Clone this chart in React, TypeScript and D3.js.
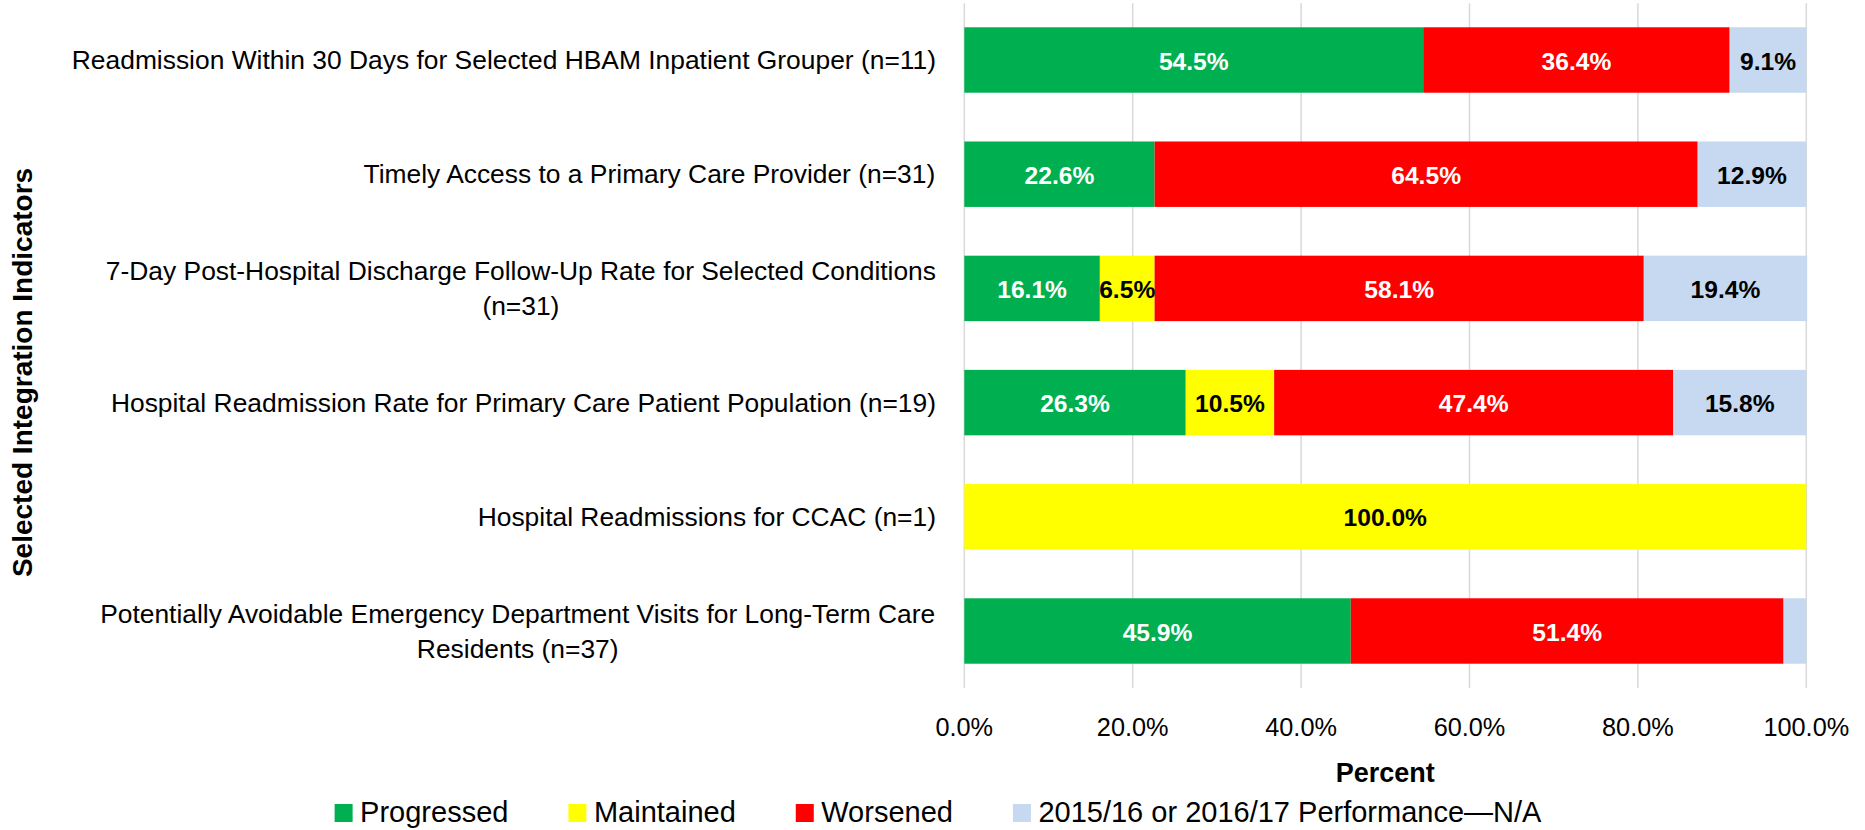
import React from "react";
import * as d3 from "d3";

const categories = [
  "Readmission Within 30 Days for Selected HBAM Inpatient Grouper (n=11)",
  "Timely Access to a Primary Care Provider (n=31)",
  "7-Day Post-Hospital Discharge Follow-Up Rate for Selected Conditions\n(n=31)",
  "Hospital Readmission Rate for Primary Care Patient Population (n=19)",
  "Hospital Readmissions for CCAC (n=1)",
  "Potentially Avoidable Emergency Department Visits for Long-Term Care\nResidents (n=37)",
];
const progressed = [54.5, 22.6, 16.1, 26.3, 0, 45.9];
const maintained = [0, 0, 6.5, 10.5, 100, 0];
const worsened = [36.4, 64.5, 58.1, 47.4, 0, 51.4];
const notAvailable = [9.1, 12.9, 19.4, 15.8, 0, 2.7];
const seriesKeys = ["progressed", "maintained", "worsened", "na"];
const seriesNames = ["Progressed", "Maintained", "Worsened", "2015/16 or 2016/17 Performance\u2014N/A"];
const xTicks = [0, 20, 40, 60, 80, 100];

const colors = ["#00B050", "#FFFF00", "#FF0000", "#C6D9F1"];
const labelColors = ["#FFFFFF", "#000000", "#FFFFFF", "#000000"];

const W = 1865;
const H = 830;
const FONT = "'Liberation Sans', Arial, sans-serif";

const X0 = 964.3;
const X1 = 1806.3;
const Y0 = 2.9;
const Y1 = 688.1;

let ctx: CanvasRenderingContext2D | null = null;
function textWidth(s: string, font: string): number {
  if (!ctx) ctx = document.createElement("canvas").getContext("2d");
  if (!ctx) return s.length * 10;
  ctx.font = font;
  return ctx.measureText(s).width;
}

export default function App() {
  const table = categories.map((c, i) => ({
    category: c,
    progressed: progressed[i],
    maintained: maintained[i],
    worsened: worsened[i],
    na: notAvailable[i],
  }));
  const stack = d3.stack<any>().keys(seriesKeys)(table);

  const x = d3.scaleLinear().domain([0, 100]).range([X0, X1]);
  const y = d3
    .scaleBand<string>()
    .domain(categories)
    .range([Y0, Y1])
    .paddingInner(0.427)
    .paddingOuter(0.2135);

  const catSize = 26.4;
  const catFont = `${catSize}px ${FONT}`;
  const labelRight = 936;
  const lineH = 35;

  const legendSize = 29;
  const legendFont = `${legendSize}px ${FONT}`;
  const sq = 18;
  const sqGap = 7.5;
  const itemGap = 60;
  const itemWidths = seriesNames.map((n) => sq + sqGap + textWidth(n, legendFont));
  const totalLegend = d3.sum(itemWidths) + itemGap * (seriesNames.length - 1);
  let lx = 938 - totalLegend / 2;
  const legendItems = seriesNames.map((n, i) => {
    const item = { name: n, x: lx, color: colors[i] };
    lx += itemWidths[i] + itemGap;
    return item;
  });

  const fmt = d3.format(".1f");

  return (
    <svg
      width={W}
      height={H}
      style={{ position: "absolute", left: 0, top: 0, background: "#fff" }}
      fontFamily={FONT}
    >
      <rect x={0} y={0} width={W} height={H} fill="#fff" />
      {/* gridlines */}
      {xTicks.map((t) => (
        <line
          key={"g" + t}
          x1={x(t)}
          x2={x(t)}
          y1={3.3}
          y2={688}
          stroke="#D9D9D9"
          strokeWidth={1.5}
        />
      ))}
      {/* bars */}
      {stack.map((s, si) => (
        <g key={s.key} fill={colors[si]}>
          {s.map((d, di) => {
            const w = x(d[1]) - x(d[0]);
            if (w <= 0) return null;
            return (
              <rect
                key={di}
                x={x(d[0])}
                y={y(categories[di])!}
                width={w}
                height={y.bandwidth()}
              />
            );
          })}
        </g>
      ))}
      {/* data labels */}
      {stack.map((s, si) => (
        <g key={"l" + s.key} fill={labelColors[si]} fontWeight="bold" fontSize={24.6} textAnchor="middle">
          {s.map((d, di) => {
            const v = d[1] - d[0];
            if (v < 3) return null;
            const cy = y(categories[di])! + y.bandwidth() / 2;
            return (
              <text key={di} x={(x(d[0]) + x(d[1])) / 2} y={cy + 9.5}>
                {fmt(v) + "%"}
              </text>
            );
          })}
        </g>
      ))}
      {/* category labels */}
      {categories.map((c) => {
        const lines = c.split("\n");
        const blockW = d3.max(lines, (l) => textWidth(l, catFont)) || 0;
        const cx = labelRight - blockW / 2;
        const cy = y(c)! + y.bandwidth() / 2;
        return (
          <g key={"c" + c} fontSize={catSize} fill="#000" textAnchor="middle">
            {lines.map((l, li) => (
              <text key={li} x={cx} y={cy + 9 + (li - (lines.length - 1) / 2) * lineH}>
                {l}
              </text>
            ))}
          </g>
        );
      })}
      {/* x tick labels */}
      {xTicks.map((t) => (
        <text key={"t" + t} x={x(t)} y={736} fontSize={25.3} textAnchor="middle" fill="#000">
          {t.toFixed(1) + "%"}
        </text>
      ))}
      {/* axis titles */}
      <text x={(X0 + X1) / 2} y={781.7} fontSize={27} fontWeight="bold" textAnchor="middle" fill="#000">
        Percent
      </text>
      <text
        transform={`translate(32,372.5) rotate(-90)`}
        fontSize={28}
        fontWeight="bold"
        textAnchor="middle"
        fill="#000"
      >
        Selected Integration Indicators
      </text>
      {/* legend */}
      {legendItems.map((it) => (
        <g key={"lg" + it.name}>
          <rect x={it.x} y={804} width={sq} height={sq} fill={it.color} />
          <text x={it.x + sq + sqGap} y={822} fontSize={legendSize} fill="#000">
            {it.name}
          </text>
        </g>
      ))}
    </svg>
  );
}
